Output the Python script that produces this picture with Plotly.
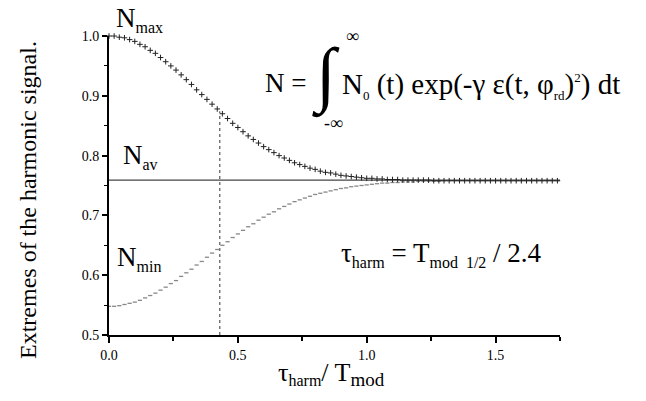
import plotly.graph_objects as go

# ---- data ----
x_vals = [round(0.02 * k, 2) for k in range(89)]  # tau_harm / T_mod sample positions
n_max = [1.000, 1.000, 0.998, 0.997, 0.994, 0.991, 0.986, 0.982, 0.976, 0.971,
         0.964, 0.957, 0.950, 0.943, 0.935, 0.927, 0.919, 0.910, 0.902, 0.894,
         0.886, 0.878, 0.870, 0.862, 0.854, 0.847, 0.840, 0.833, 0.827, 0.821,
         0.815, 0.810, 0.805, 0.800, 0.796, 0.792, 0.788, 0.785, 0.782, 0.779,
         0.777, 0.774, 0.772, 0.771, 0.769, 0.767, 0.766, 0.765, 0.764, 0.763,
         0.762, 0.762, 0.761, 0.761, 0.760, 0.760, 0.760, 0.759, 0.759, 0.759,
         0.759, 0.759, 0.759, 0.758, 0.758, 0.758, 0.758, 0.758, 0.758, 0.758,
         0.758, 0.758, 0.758, 0.758, 0.758, 0.758, 0.758, 0.758, 0.758, 0.758,
         0.758, 0.758, 0.758, 0.758, 0.758, 0.758, 0.758, 0.758, 0.758]
n_min = [0.548, 0.548, 0.549, 0.551, 0.553, 0.555, 0.558, 0.562, 0.566, 0.570,
         0.575, 0.580, 0.586, 0.591, 0.598, 0.604, 0.610, 0.617, 0.623, 0.630,
         0.637, 0.643, 0.650, 0.656, 0.663, 0.669, 0.675, 0.681, 0.686, 0.692,
         0.697, 0.702, 0.706, 0.711, 0.715, 0.719, 0.723, 0.726, 0.729, 0.732,
         0.735, 0.737, 0.739, 0.741, 0.743, 0.745, 0.746, 0.748, 0.749, 0.750,
         0.751, 0.752, 0.753, 0.754, 0.754, 0.755, 0.755, 0.756, 0.756, 0.756,
         0.757, 0.757, 0.757, 0.757, 0.757, 0.758, 0.758, 0.758, 0.758, 0.758,
         0.758, 0.758, 0.758, 0.758, 0.758, 0.758, 0.758, 0.758, 0.758, 0.758,
         0.758, 0.758, 0.758, 0.758, 0.758, 0.758, 0.758, 0.758, 0.758]
n_av = 0.759
n_av_x = [0.0, 1.76]
marker_x = 0.43          # vertical dotted marker position
marker_top = 0.874       # Nmax value at marker
x_ticks = [0.0, 0.5, 1.0, 1.5]
y_ticks = [0.5, 0.6, 0.7, 0.8, 0.9, 1.0]

SERIF = "Liberation Serif"

fig = go.Figure()
fig.add_trace(go.Scatter(x=n_av_x, y=[n_av, n_av], mode="lines",
                         line=dict(color="#444", width=1.2), cliponaxis=False,
                         showlegend=False, hoverinfo="skip"))
fig.add_trace(go.Scatter(x=[marker_x, marker_x], y=[0.5, marker_top], mode="lines",
                         line=dict(color="#333", width=1, dash="dot"),
                         showlegend=False, hoverinfo="skip"))
fig.add_trace(go.Scatter(x=x_vals, y=n_min, mode="markers", cliponaxis=False,
                         marker=dict(symbol="line-ew", size=3,
                                     line=dict(color="#888", width=1.3)),
                         showlegend=False))
fig.add_trace(go.Scatter(x=x_vals, y=n_max, mode="markers", cliponaxis=False,
                         marker=dict(symbol="cross-thin", size=4,
                                     line=dict(color="#222", width=1)),
                         showlegend=False))

L, R, T, B = 101, 94, 28, 74
W, H = 646, 401
pw, ph = W - L - R, H - T - B


def px(xp):
    return (xp - L) / pw


def py(yp):
    return (H - B - yp) / ph


ann = []


def sub(t, s=16):
    return "<sub><span style='font-size:%dpx'>%s</span></sub>" % (s, t)


def add(text, xp, yp, size, xanchor="left", yanchor="middle"):
    ann.append(dict(text=text, x=px(xp), y=py(yp), xref="paper", yref="paper",
                    xanchor=xanchor, yanchor=yanchor, showarrow=False, borderpad=0,
                    font=dict(family=SERIF, size=size, color="black")))


add("N" + sub("max"), 107, 11, 27)
add("N" + sub("av"), 114, 148, 27)
add("N" + sub("min"), 108, 251, 27)
add("N =", 256, 75, 27)
add("∫", 303, 68, 72)
add("∞", 337, 28, 18)
add("-∞", 315, 115, 18)
add("N" + sub("0", 13) + " (t) exp(-γ ε(t, φ" + sub("rd", 13)
    + ")<sup><span style='font-size:13px'>2</span></sup>) dt", 333, 77, 29)
add("τ" + sub("harm") + " = T" + sub("mod  1/2") + " / 2.4", 332, 246, 27)
add("τ" + sub("harm") + "/ T" + sub("mod", 19), 323, 366, 26, xanchor="center")
ann.append(dict(text="Extremes of the harmonic signal.", x=px(20), y=py(192),
                xref="paper", yref="paper", textangle=-90, showarrow=False,
                xanchor="center", yanchor="middle",
                font=dict(family=SERIF, size=24, color="black")))

axis_common = dict(showline=True, linecolor="black", linewidth=2, ticks="outside",
                   tickcolor="black", tickwidth=1.5, showgrid=False, zeroline=False,
                   tickfont=dict(family=SERIF, size=14, color="black"),
                   tickformat=".1f")

fig.update_layout(
    width=W, height=H, margin=dict(l=L, r=R, t=T, b=B),
    paper_bgcolor="white", plot_bgcolor="white",
    font=dict(family=SERIF),
    xaxis=dict(range=[0, 1.75], tickvals=x_ticks, ticklen=6,
               minor=dict(dtick=0.25, tick0=0, ticks="outside", ticklen=4,
                          tickcolor="black", tickwidth=1.5),
               **axis_common),
    yaxis=dict(range=[0.5, 1.0], tickvals=y_ticks, ticklen=5,
               minor=dict(dtick=0.05, tick0=0.5, ticks="outside", ticklen=3,
                          tickcolor="black", tickwidth=1.2),
               **axis_common),
    annotations=ann,
)

fig.write_html("out.html")
